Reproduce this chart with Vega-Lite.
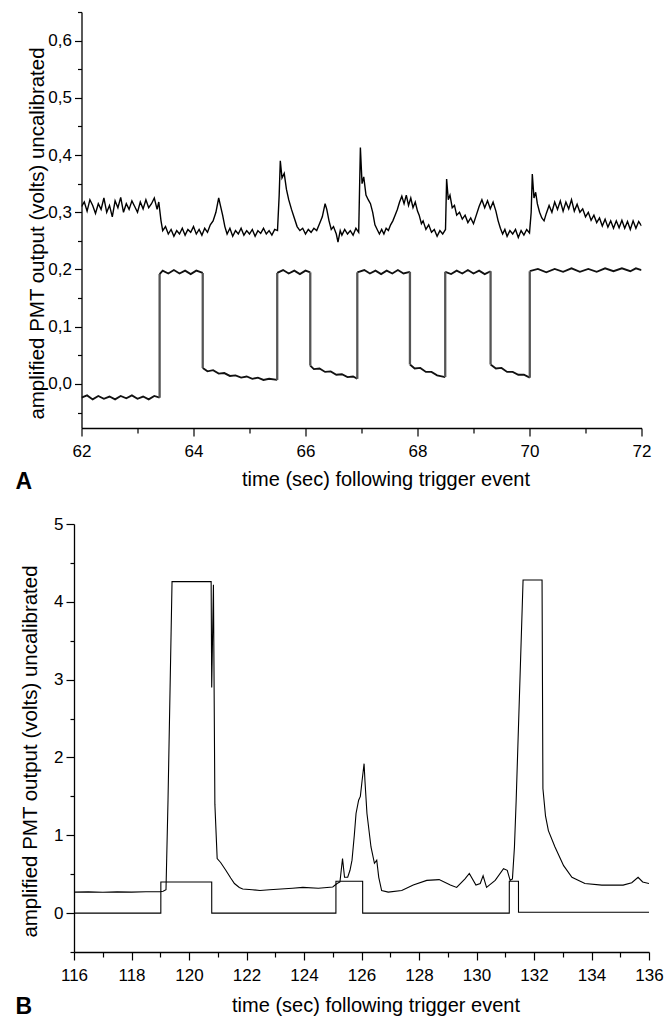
{
  "$schema": "https://vega.github.io/schema/vega-lite/v6.json",
  "padding": {"left": 15, "top": 3, "right": 8, "bottom": 0},
  "spacing": 96,
  "bounds": "flush",
  "center": true,
  "background": "white",
  "config": {
    "view": {"stroke": null},
    "axis": {
      "grid": false,
      "domainColor": "#000",
      "domainWidth": 1.3,
      "tickColor": "#000",
      "tickWidth": 1.2,
      "labelColor": "#000",
      "titleColor": "#000",
      "labelFont": "Liberation Sans",
      "labelFontSize": 17,
      "titleFont": "Liberation Sans",
      "titleFontWeight": "normal",
      "labelFlush": false,
      "labelOverlap": false,
      "labelBound": false
    },
    "axisX": {"titleFontSize": 20},
    "axisY": {"titleFontSize": 20.5}
  },
  "datasets": {
    "A": [
      {"t":62.00,"v":0.310,"s":"f","g":"f"},{"t":62.05,"v":0.318,"s":"f","g":"f"},{"t":62.10,"v":0.302,"s":"f","g":"f"},{"t":62.15,"v":0.322,"s":"f","g":"f"},{"t":62.20,"v":0.312,"s":"f","g":"f"},{"t":62.25,"v":0.298,"s":"f","g":"f"},{"t":62.30,"v":0.315,"s":"f","g":"f"},{"t":62.35,"v":0.305,"s":"f","g":"f"},{"t":62.40,"v":0.325,"s":"f","g":"f"},{"t":62.45,"v":0.300,"s":"f","g":"f"},{"t":62.50,"v":0.312,"s":"f","g":"f"},{"t":62.55,"v":0.292,"s":"f","g":"f"},{"t":62.60,"v":0.320,"s":"f","g":"f"},{"t":62.65,"v":0.308,"s":"f","g":"f"},{"t":62.70,"v":0.326,"s":"f","g":"f"},{"t":62.75,"v":0.300,"s":"f","g":"f"},{"t":62.80,"v":0.315,"s":"f","g":"f"},{"t":62.85,"v":0.305,"s":"f","g":"f"},{"t":62.90,"v":0.320,"s":"f","g":"f"},{"t":62.95,"v":0.310,"s":"f","g":"f"},{"t":63.00,"v":0.300,"s":"f","g":"f"},{"t":63.05,"v":0.318,"s":"f","g":"f"},{"t":63.10,"v":0.306,"s":"f","g":"f"},{"t":63.15,"v":0.322,"s":"f","g":"f"},{"t":63.20,"v":0.308,"s":"f","g":"f"},{"t":63.25,"v":0.315,"s":"f","g":"f"},{"t":63.30,"v":0.325,"s":"f","g":"f"},{"t":63.35,"v":0.305,"s":"f","g":"f"},{"t":63.38,"v":0.318,"s":"f","g":"f"},{"t":63.42,"v":0.285,"s":"f","g":"f"},{"t":63.45,"v":0.268,"s":"f","g":"f"},{"t":63.50,"v":0.275,"s":"f","g":"f"},{"t":63.55,"v":0.262,"s":"f","g":"f"},{"t":63.60,"v":0.270,"s":"f","g":"f"},{"t":63.65,"v":0.258,"s":"f","g":"f"},{"t":63.70,"v":0.268,"s":"f","g":"f"},{"t":63.75,"v":0.262,"s":"f","g":"f"},{"t":63.80,"v":0.272,"s":"f","g":"f"},{"t":63.85,"v":0.260,"s":"f","g":"f"},{"t":63.90,"v":0.270,"s":"f","g":"f"},{"t":63.95,"v":0.265,"s":"f","g":"f"},{"t":64.00,"v":0.275,"s":"f","g":"f"},{"t":64.05,"v":0.262,"s":"f","g":"f"},{"t":64.10,"v":0.270,"s":"f","g":"f"},{"t":64.15,"v":0.260,"s":"f","g":"f"},{"t":64.20,"v":0.272,"s":"f","g":"f"},{"t":64.25,"v":0.265,"s":"f","g":"f"},{"t":64.30,"v":0.278,"s":"f","g":"f"},{"t":64.35,"v":0.285,"s":"f","g":"f"},{"t":64.40,"v":0.300,"s":"f","g":"f"},{"t":64.45,"v":0.325,"s":"f","g":"f"},{"t":64.48,"v":0.312,"s":"f","g":"f"},{"t":64.52,"v":0.295,"s":"f","g":"f"},{"t":64.56,"v":0.275,"s":"f","g":"f"},{"t":64.60,"v":0.262,"s":"f","g":"f"},{"t":64.65,"v":0.272,"s":"f","g":"f"},{"t":64.70,"v":0.258,"s":"f","g":"f"},{"t":64.75,"v":0.268,"s":"f","g":"f"},{"t":64.80,"v":0.262,"s":"f","g":"f"},{"t":64.85,"v":0.272,"s":"f","g":"f"},{"t":64.90,"v":0.260,"s":"f","g":"f"},{"t":64.95,"v":0.268,"s":"f","g":"f"},{"t":65.00,"v":0.262,"s":"f","g":"f"},{"t":65.05,"v":0.270,"s":"f","g":"f"},{"t":65.10,"v":0.258,"s":"f","g":"f"},{"t":65.15,"v":0.268,"s":"f","g":"f"},{"t":65.20,"v":0.263,"s":"f","g":"f"},{"t":65.25,"v":0.272,"s":"f","g":"f"},{"t":65.30,"v":0.262,"s":"f","g":"f"},{"t":65.35,"v":0.268,"s":"f","g":"f"},{"t":65.40,"v":0.260,"s":"f","g":"f"},{"t":65.45,"v":0.270,"s":"f","g":"f"},{"t":65.50,"v":0.268,"s":"f","g":"f"},{"t":65.53,"v":0.330,"s":"f","g":"f"},{"t":65.55,"v":0.390,"s":"f","g":"f"},{"t":65.58,"v":0.360,"s":"f","g":"f"},{"t":65.62,"v":0.368,"s":"f","g":"f"},{"t":65.66,"v":0.340,"s":"f","g":"f"},{"t":65.70,"v":0.322,"s":"f","g":"f"},{"t":65.75,"v":0.305,"s":"f","g":"f"},{"t":65.80,"v":0.290,"s":"f","g":"f"},{"t":65.85,"v":0.275,"s":"f","g":"f"},{"t":65.90,"v":0.268,"s":"f","g":"f"},{"t":65.95,"v":0.272,"s":"f","g":"f"},{"t":66.00,"v":0.262,"s":"f","g":"f"},{"t":66.05,"v":0.270,"s":"f","g":"f"},{"t":66.10,"v":0.265,"s":"f","g":"f"},{"t":66.15,"v":0.272,"s":"f","g":"f"},{"t":66.20,"v":0.268,"s":"f","g":"f"},{"t":66.25,"v":0.280,"s":"f","g":"f"},{"t":66.30,"v":0.292,"s":"f","g":"f"},{"t":66.35,"v":0.315,"s":"f","g":"f"},{"t":66.38,"v":0.305,"s":"f","g":"f"},{"t":66.42,"v":0.285,"s":"f","g":"f"},{"t":66.46,"v":0.270,"s":"f","g":"f"},{"t":66.50,"v":0.275,"s":"f","g":"f"},{"t":66.55,"v":0.262,"s":"f","g":"f"},{"t":66.58,"v":0.248,"s":"f","g":"f"},{"t":66.62,"v":0.268,"s":"f","g":"f"},{"t":66.65,"v":0.260,"s":"f","g":"f"},{"t":66.70,"v":0.270,"s":"f","g":"f"},{"t":66.75,"v":0.262,"s":"f","g":"f"},{"t":66.80,"v":0.268,"s":"f","g":"f"},{"t":66.85,"v":0.260,"s":"f","g":"f"},{"t":66.90,"v":0.272,"s":"f","g":"f"},{"t":66.95,"v":0.265,"s":"f","g":"f"},{"t":66.98,"v":0.413,"s":"f","g":"f"},{"t":67.01,"v":0.350,"s":"f","g":"f"},{"t":67.04,"v":0.362,"s":"f","g":"f"},{"t":67.08,"v":0.330,"s":"f","g":"f"},{"t":67.12,"v":0.322,"s":"f","g":"f"},{"t":67.16,"v":0.315,"s":"f","g":"f"},{"t":67.20,"v":0.300,"s":"f","g":"f"},{"t":67.24,"v":0.278,"s":"f","g":"f"},{"t":67.28,"v":0.270,"s":"f","g":"f"},{"t":67.32,"v":0.262,"s":"f","g":"f"},{"t":67.36,"v":0.270,"s":"f","g":"f"},{"t":67.40,"v":0.262,"s":"f","g":"f"},{"t":67.44,"v":0.272,"s":"f","g":"f"},{"t":67.48,"v":0.268,"s":"f","g":"f"},{"t":67.52,"v":0.278,"s":"f","g":"f"},{"t":67.56,"v":0.285,"s":"f","g":"f"},{"t":67.60,"v":0.295,"s":"f","g":"f"},{"t":67.64,"v":0.305,"s":"f","g":"f"},{"t":67.68,"v":0.318,"s":"f","g":"f"},{"t":67.72,"v":0.328,"s":"f","g":"f"},{"t":67.76,"v":0.315,"s":"f","g":"f"},{"t":67.80,"v":0.330,"s":"f","g":"f"},{"t":67.84,"v":0.312,"s":"f","g":"f"},{"t":67.88,"v":0.325,"s":"f","g":"f"},{"t":67.92,"v":0.308,"s":"f","g":"f"},{"t":67.96,"v":0.318,"s":"f","g":"f"},{"t":68.00,"v":0.302,"s":"f","g":"f"},{"t":68.03,"v":0.295,"s":"f","g":"f"},{"t":68.07,"v":0.280,"s":"f","g":"f"},{"t":68.10,"v":0.285,"s":"f","g":"f"},{"t":68.15,"v":0.270,"s":"f","g":"f"},{"t":68.20,"v":0.278,"s":"f","g":"f"},{"t":68.25,"v":0.265,"s":"f","g":"f"},{"t":68.30,"v":0.270,"s":"f","g":"f"},{"t":68.35,"v":0.258,"s":"f","g":"f"},{"t":68.40,"v":0.268,"s":"f","g":"f"},{"t":68.45,"v":0.262,"s":"f","g":"f"},{"t":68.50,"v":0.270,"s":"f","g":"f"},{"t":68.52,"v":0.358,"s":"f","g":"f"},{"t":68.55,"v":0.322,"s":"f","g":"f"},{"t":68.58,"v":0.330,"s":"f","g":"f"},{"t":68.62,"v":0.308,"s":"f","g":"f"},{"t":68.66,"v":0.312,"s":"f","g":"f"},{"t":68.70,"v":0.295,"s":"f","g":"f"},{"t":68.75,"v":0.300,"s":"f","g":"f"},{"t":68.80,"v":0.288,"s":"f","g":"f"},{"t":68.85,"v":0.295,"s":"f","g":"f"},{"t":68.90,"v":0.282,"s":"f","g":"f"},{"t":68.95,"v":0.290,"s":"f","g":"f"},{"t":69.00,"v":0.280,"s":"f","g":"f"},{"t":69.05,"v":0.295,"s":"f","g":"f"},{"t":69.10,"v":0.310,"s":"f","g":"f"},{"t":69.15,"v":0.322,"s":"f","g":"f"},{"t":69.20,"v":0.308,"s":"f","g":"f"},{"t":69.25,"v":0.320,"s":"f","g":"f"},{"t":69.30,"v":0.306,"s":"f","g":"f"},{"t":69.35,"v":0.318,"s":"f","g":"f"},{"t":69.40,"v":0.302,"s":"f","g":"f"},{"t":69.44,"v":0.285,"s":"f","g":"f"},{"t":69.48,"v":0.272,"s":"f","g":"f"},{"t":69.52,"v":0.262,"s":"f","g":"f"},{"t":69.56,"v":0.270,"s":"f","g":"f"},{"t":69.60,"v":0.258,"s":"f","g":"f"},{"t":69.65,"v":0.268,"s":"f","g":"f"},{"t":69.70,"v":0.262,"s":"f","g":"f"},{"t":69.75,"v":0.270,"s":"f","g":"f"},{"t":69.80,"v":0.256,"s":"f","g":"f"},{"t":69.85,"v":0.268,"s":"f","g":"f"},{"t":69.90,"v":0.260,"s":"f","g":"f"},{"t":69.95,"v":0.270,"s":"f","g":"f"},{"t":70.00,"v":0.264,"s":"f","g":"f"},{"t":70.03,"v":0.300,"s":"f","g":"f"},{"t":70.05,"v":0.367,"s":"f","g":"f"},{"t":70.08,"v":0.325,"s":"f","g":"f"},{"t":70.11,"v":0.335,"s":"f","g":"f"},{"t":70.14,"v":0.315,"s":"f","g":"f"},{"t":70.18,"v":0.300,"s":"f","g":"f"},{"t":70.22,"v":0.290,"s":"f","g":"f"},{"t":70.26,"v":0.285,"s":"f","g":"f"},{"t":70.30,"v":0.298,"s":"f","g":"f"},{"t":70.35,"v":0.312,"s":"f","g":"f"},{"t":70.40,"v":0.300,"s":"f","g":"f"},{"t":70.45,"v":0.318,"s":"f","g":"f"},{"t":70.50,"v":0.305,"s":"f","g":"f"},{"t":70.55,"v":0.320,"s":"f","g":"f"},{"t":70.60,"v":0.302,"s":"f","g":"f"},{"t":70.65,"v":0.318,"s":"f","g":"f"},{"t":70.70,"v":0.306,"s":"f","g":"f"},{"t":70.75,"v":0.322,"s":"f","g":"f"},{"t":70.80,"v":0.302,"s":"f","g":"f"},{"t":70.85,"v":0.314,"s":"f","g":"f"},{"t":70.90,"v":0.300,"s":"f","g":"f"},{"t":70.95,"v":0.306,"s":"f","g":"f"},{"t":71.00,"v":0.292,"s":"f","g":"f"},{"t":71.05,"v":0.300,"s":"f","g":"f"},{"t":71.10,"v":0.286,"s":"f","g":"f"},{"t":71.15,"v":0.295,"s":"f","g":"f"},{"t":71.20,"v":0.282,"s":"f","g":"f"},{"t":71.25,"v":0.290,"s":"f","g":"f"},{"t":71.30,"v":0.276,"s":"f","g":"f"},{"t":71.35,"v":0.288,"s":"f","g":"f"},{"t":71.40,"v":0.274,"s":"f","g":"f"},{"t":71.45,"v":0.285,"s":"f","g":"f"},{"t":71.50,"v":0.272,"s":"f","g":"f"},{"t":71.55,"v":0.285,"s":"f","g":"f"},{"t":71.60,"v":0.273,"s":"f","g":"f"},{"t":71.65,"v":0.286,"s":"f","g":"f"},{"t":71.70,"v":0.272,"s":"f","g":"f"},{"t":71.75,"v":0.284,"s":"f","g":"f"},{"t":71.80,"v":0.270,"s":"f","g":"f"},{"t":71.85,"v":0.285,"s":"f","g":"f"},{"t":71.90,"v":0.272,"s":"f","g":"f"},{"t":71.95,"v":0.284,"s":"f","g":"f"},{"t":72.00,"v":0.276,"s":"f","g":"f"},
      {"t":62.0,"v":-0.024,"s":"lv","g":"l1"},{"t":62.1,"v":-0.020,"s":"lv","g":"l1"},{"t":62.2,"v":-0.027,"s":"lv","g":"l1"},{"t":62.3,"v":-0.021,"s":"lv","g":"l1"},{"t":62.4,"v":-0.026,"s":"lv","g":"l1"},{"t":62.5,"v":-0.022,"s":"lv","g":"l1"},{"t":62.6,"v":-0.027,"s":"lv","g":"l1"},{"t":62.7,"v":-0.021,"s":"lv","g":"l1"},{"t":62.8,"v":-0.025,"s":"lv","g":"l1"},{"t":62.9,"v":-0.020,"s":"lv","g":"l1"},{"t":63.0,"v":-0.026,"s":"lv","g":"l1"},{"t":63.1,"v":-0.022,"s":"lv","g":"l1"},{"t":63.2,"v":-0.027,"s":"lv","g":"l1"},{"t":63.3,"v":-0.021,"s":"lv","g":"l1"},{"t":63.395,"v":-0.024,"s":"lv","g":"l1"},
      {"t":63.395,"v":0.192,"s":"lv","g":"l2"},{"t":63.45,"v":0.198,"s":"lv","g":"l2"},{"t":63.55,"v":0.193,"s":"lv","g":"l2"},{"t":63.65,"v":0.199,"s":"lv","g":"l2"},{"t":63.75,"v":0.193,"s":"lv","g":"l2"},{"t":63.85,"v":0.198,"s":"lv","g":"l2"},{"t":63.95,"v":0.192,"s":"lv","g":"l2"},{"t":64.05,"v":0.198,"s":"lv","g":"l2"},{"t":64.165,"v":0.194,"s":"lv","g":"l2"},
      {"t":64.165,"v":0.028,"s":"lv","g":"l3"},{"t":64.25,"v":0.022,"s":"lv","g":"l3"},{"t":64.35,"v":0.024,"s":"lv","g":"l3"},{"t":64.45,"v":0.018,"s":"lv","g":"l3"},{"t":64.55,"v":0.019,"s":"lv","g":"l3"},{"t":64.65,"v":0.014,"s":"lv","g":"l3"},{"t":64.75,"v":0.015,"s":"lv","g":"l3"},{"t":64.85,"v":0.011,"s":"lv","g":"l3"},{"t":64.95,"v":0.013,"s":"lv","g":"l3"},{"t":65.05,"v":0.009,"s":"lv","g":"l3"},{"t":65.15,"v":0.011,"s":"lv","g":"l3"},{"t":65.25,"v":0.007,"s":"lv","g":"l3"},{"t":65.35,"v":0.009,"s":"lv","g":"l3"},{"t":65.495,"v":0.007,"s":"lv","g":"l3"},
      {"t":65.495,"v":0.194,"s":"lv","g":"l4"},{"t":65.6,"v":0.199,"s":"lv","g":"l4"},{"t":65.7,"v":0.193,"s":"lv","g":"l4"},{"t":65.8,"v":0.198,"s":"lv","g":"l4"},{"t":65.9,"v":0.192,"s":"lv","g":"l4"},{"t":66.0,"v":0.198,"s":"lv","g":"l4"},{"t":66.085,"v":0.195,"s":"lv","g":"l4"},
      {"t":66.085,"v":0.032,"s":"lv","g":"l5"},{"t":66.15,"v":0.026,"s":"lv","g":"l5"},{"t":66.25,"v":0.027,"s":"lv","g":"l5"},{"t":66.35,"v":0.021,"s":"lv","g":"l5"},{"t":66.45,"v":0.022,"s":"lv","g":"l5"},{"t":66.55,"v":0.016,"s":"lv","g":"l5"},{"t":66.65,"v":0.017,"s":"lv","g":"l5"},{"t":66.75,"v":0.012,"s":"lv","g":"l5"},{"t":66.85,"v":0.013,"s":"lv","g":"l5"},{"t":66.925,"v":0.009,"s":"lv","g":"l5"},
      {"t":66.925,"v":0.195,"s":"lv","g":"l6"},{"t":67.05,"v":0.199,"s":"lv","g":"l6"},{"t":67.15,"v":0.193,"s":"lv","g":"l6"},{"t":67.25,"v":0.198,"s":"lv","g":"l6"},{"t":67.35,"v":0.192,"s":"lv","g":"l6"},{"t":67.45,"v":0.198,"s":"lv","g":"l6"},{"t":67.55,"v":0.193,"s":"lv","g":"l6"},{"t":67.65,"v":0.199,"s":"lv","g":"l6"},{"t":67.75,"v":0.193,"s":"lv","g":"l6"},{"t":67.865,"v":0.196,"s":"lv","g":"l6"},
      {"t":67.865,"v":0.034,"s":"lv","g":"l7"},{"t":67.95,"v":0.027,"s":"lv","g":"l7"},{"t":68.05,"v":0.028,"s":"lv","g":"l7"},{"t":68.15,"v":0.021,"s":"lv","g":"l7"},{"t":68.25,"v":0.021,"s":"lv","g":"l7"},{"t":68.35,"v":0.015,"s":"lv","g":"l7"},{"t":68.495,"v":0.012,"s":"lv","g":"l7"},
      {"t":68.495,"v":0.196,"s":"lv","g":"l8"},{"t":68.6,"v":0.192,"s":"lv","g":"l8"},{"t":68.7,"v":0.198,"s":"lv","g":"l8"},{"t":68.8,"v":0.193,"s":"lv","g":"l8"},{"t":68.9,"v":0.199,"s":"lv","g":"l8"},{"t":69.0,"v":0.193,"s":"lv","g":"l8"},{"t":69.1,"v":0.198,"s":"lv","g":"l8"},{"t":69.2,"v":0.192,"s":"lv","g":"l8"},{"t":69.305,"v":0.197,"s":"lv","g":"l8"},
      {"t":69.305,"v":0.034,"s":"lv","g":"l9"},{"t":69.4,"v":0.027,"s":"lv","g":"l9"},{"t":69.5,"v":0.028,"s":"lv","g":"l9"},{"t":69.6,"v":0.021,"s":"lv","g":"l9"},{"t":69.7,"v":0.021,"s":"lv","g":"l9"},{"t":69.8,"v":0.016,"s":"lv","g":"l9"},{"t":69.9,"v":0.016,"s":"lv","g":"l9"},{"t":70.005,"v":0.011,"s":"lv","g":"l9"},
      {"t":70.005,"v":0.197,"s":"lv","g":"l10"},{"t":70.15,"v":0.201,"s":"lv","g":"l10"},{"t":70.3,"v":0.195,"s":"lv","g":"l10"},{"t":70.45,"v":0.201,"s":"lv","g":"l10"},{"t":70.6,"v":0.196,"s":"lv","g":"l10"},{"t":70.75,"v":0.202,"s":"lv","g":"l10"},{"t":70.9,"v":0.196,"s":"lv","g":"l10"},{"t":71.05,"v":0.201,"s":"lv","g":"l10"},{"t":71.2,"v":0.196,"s":"lv","g":"l10"},{"t":71.35,"v":0.202,"s":"lv","g":"l10"},{"t":71.5,"v":0.197,"s":"lv","g":"l10"},{"t":71.65,"v":0.202,"s":"lv","g":"l10"},{"t":71.8,"v":0.197,"s":"lv","g":"l10"},{"t":71.9,"v":0.202,"s":"lv","g":"l10"},{"t":72.0,"v":0.199,"s":"lv","g":"l10"},
      {"t":63.395,"v":-0.024,"s":"ed","g":"e1"},{"t":63.395,"v":0.192,"s":"ed","g":"e1"},
      {"t":64.165,"v":0.194,"s":"ed","g":"e2"},{"t":64.165,"v":0.028,"s":"ed","g":"e2"},
      {"t":65.495,"v":0.007,"s":"ed","g":"e3"},{"t":65.495,"v":0.194,"s":"ed","g":"e3"},
      {"t":66.085,"v":0.195,"s":"ed","g":"e4"},{"t":66.085,"v":0.032,"s":"ed","g":"e4"},
      {"t":66.925,"v":0.009,"s":"ed","g":"e5"},{"t":66.925,"v":0.195,"s":"ed","g":"e5"},
      {"t":67.865,"v":0.196,"s":"ed","g":"e6"},{"t":67.865,"v":0.034,"s":"ed","g":"e6"},
      {"t":68.495,"v":0.012,"s":"ed","g":"e7"},{"t":68.495,"v":0.196,"s":"ed","g":"e7"},
      {"t":69.305,"v":0.197,"s":"ed","g":"e8"},{"t":69.305,"v":0.034,"s":"ed","g":"e8"},
      {"t":70.005,"v":0.011,"s":"ed","g":"e9"},{"t":70.005,"v":0.197,"s":"ed","g":"e9"}
    ],
    "B": [
      {"t":116.0,"v":0.27,"s":"f"},{"t":116.5,"v":0.272,"s":"f"},{"t":117.0,"v":0.268,"s":"f"},{"t":117.5,"v":0.273,"s":"f"},{"t":118.0,"v":0.27,"s":"f"},{"t":118.5,"v":0.275,"s":"f"},{"t":119.0,"v":0.275,"s":"f"},{"t":119.1,"v":0.28,"s":"f"},{"t":119.2,"v":0.30,"s":"f"},{"t":119.27,"v":1.45,"s":"f"},{"t":119.41,"v":4.26,"s":"f"},{"t":120.77,"v":4.26,"s":"f"},{"t":120.79,"v":2.9,"s":"f"},{"t":120.85,"v":4.22,"s":"f"},{"t":120.9,"v":1.4,"s":"f"},{"t":120.98,"v":0.70,"s":"f"},{"t":121.1,"v":0.65,"s":"f"},{"t":121.28,"v":0.55,"s":"f"},{"t":121.45,"v":0.45,"s":"f"},{"t":121.58,"v":0.38,"s":"f"},{"t":121.75,"v":0.33,"s":"f"},{"t":121.87,"v":0.31,"s":"f"},{"t":122.2,"v":0.30,"s":"f"},{"t":122.47,"v":0.29,"s":"f"},{"t":122.8,"v":0.30,"s":"f"},{"t":123.2,"v":0.31,"s":"f"},{"t":123.6,"v":0.32,"s":"f"},{"t":123.96,"v":0.33,"s":"f"},{"t":124.5,"v":0.32,"s":"f"},{"t":125.0,"v":0.335,"s":"f"},{"t":125.15,"v":0.38,"s":"f"},{"t":125.25,"v":0.40,"s":"f"},{"t":125.34,"v":0.70,"s":"f"},{"t":125.41,"v":0.46,"s":"f"},{"t":125.52,"v":0.46,"s":"f"},{"t":125.6,"v":0.55,"s":"f"},{"t":125.67,"v":0.68,"s":"f"},{"t":125.75,"v":1.0,"s":"f"},{"t":125.81,"v":1.28,"s":"f"},{"t":125.9,"v":1.45,"s":"f"},{"t":125.96,"v":1.5,"s":"f"},{"t":126.02,"v":1.7,"s":"f"},{"t":126.09,"v":1.92,"s":"f"},{"t":126.12,"v":1.7,"s":"f"},{"t":126.19,"v":1.28,"s":"f"},{"t":126.33,"v":0.85,"s":"f"},{"t":126.45,"v":0.64,"s":"f"},{"t":126.53,"v":0.68,"s":"f"},{"t":126.6,"v":0.46,"s":"f"},{"t":126.7,"v":0.29,"s":"f"},{"t":126.93,"v":0.27,"s":"f"},{"t":127.4,"v":0.29,"s":"f"},{"t":127.8,"v":0.36,"s":"f"},{"t":128.27,"v":0.42,"s":"f"},{"t":128.7,"v":0.43,"s":"f"},{"t":129.09,"v":0.36,"s":"f"},{"t":129.31,"v":0.33,"s":"f"},{"t":129.6,"v":0.44,"s":"f"},{"t":129.75,"v":0.51,"s":"f"},{"t":129.98,"v":0.36,"s":"f"},{"t":130.13,"v":0.38,"s":"f"},{"t":130.23,"v":0.48,"s":"f"},{"t":130.35,"v":0.33,"s":"f"},{"t":130.65,"v":0.42,"s":"f"},{"t":130.94,"v":0.57,"s":"f"},{"t":131.07,"v":0.55,"s":"f"},{"t":131.17,"v":0.42,"s":"f"},{"t":131.25,"v":0.44,"s":"f"},{"t":131.32,"v":0.85,"s":"f"},{"t":131.38,"v":1.45,"s":"f"},{"t":131.62,"v":4.28,"s":"f"},{"t":132.28,"v":4.28,"s":"f"},{"t":132.31,"v":1.6,"s":"f"},{"t":132.4,"v":1.25,"s":"f"},{"t":132.5,"v":1.06,"s":"f"},{"t":132.73,"v":0.85,"s":"f"},{"t":133.03,"v":0.61,"s":"f"},{"t":133.32,"v":0.46,"s":"f"},{"t":133.77,"v":0.38,"s":"f"},{"t":134.36,"v":0.36,"s":"f"},{"t":135.1,"v":0.36,"s":"f"},{"t":135.4,"v":0.39,"s":"f"},{"t":135.62,"v":0.46,"s":"f"},{"t":135.78,"v":0.40,"s":"f"},{"t":136.0,"v":0.38,"s":"f"},
      {"t":116.0,"v":0.0,"s":"p"},{"t":119.02,"v":0.0,"s":"p"},{"t":119.021,"v":0.40,"s":"p"},{"t":120.79,"v":0.40,"s":"p"},{"t":120.791,"v":0.0,"s":"p"},{"t":125.11,"v":0.0,"s":"p"},{"t":125.111,"v":0.41,"s":"p"},{"t":126.04,"v":0.41,"s":"p"},{"t":126.041,"v":0.0,"s":"p"},{"t":131.14,"v":0.0,"s":"p"},{"t":131.141,"v":0.41,"s":"p"},{"t":131.46,"v":0.41,"s":"p"},{"t":131.461,"v":0.01,"s":"p"},{"t":136.0,"v":0.01,"s":"p"}
    ]
  },
  "vconcat": [
    {
      "width": 560,
      "height": 416,
      "data": {"name": "A"},
      "title": {"text": "A", "orient": "bottom", "anchor": "start", "frame": "group", "offset": 0, "dx": -66, "dy": -18, "font": "Liberation Sans", "fontSize": 23, "fontWeight": "bold", "color": "#000"},
      "mark": {"type": "line", "clip": true},
      "encoding": {
        "x": {"field": "t", "type": "quantitative",
          "scale": {"domain": [62, 72], "nice": false, "zero": false},
          "axis": {
            "title": "time (sec) following trigger event",
            "values": [62,63,64,65,66,67,68,69,70,71,72],
            "labelExpr": "datum.value % 2 === 0 ? format(datum.value, 'd') : ''",
            "tickSize": {"condition": {"test": "datum.value % 2 === 0", "value": 8}, "value": 5},
            "labelPadding": 7,
            "titleX": 304, "titleY": 57, "titleBaseline": "alphabetic"
          }},
        "y": {"field": "v", "type": "quantitative",
          "scale": {"domain": [-0.077, 0.65], "nice": false, "zero": false},
          "axis": {
            "title": "amplified PMT output (volts) uncalibrated",
            "values": [-0.05,0,0.05,0.1,0.15,0.2,0.25,0.3,0.35,0.4,0.45,0.5,0.55,0.6,0.65],
            "labelExpr": "abs(round(datum.value*20)) % 2 === 0 ? replace(format(datum.value, '.1f'), '.', ',') : ''",
            "tickSize": {"condition": {"test": "abs(round(datum.value*20)) % 2 === 0", "value": 7}, "value": 4},
            "labelPadding": 3,
            "titleX": -38, "titleY": 221, "titleBaseline": "alphabetic"
          }},
        "detail": {"field": "g", "type": "nominal"},
        "color": {"field": "s", "type": "nominal", "scale": {"domain": ["f", "lv", "ed"], "range": ["#000", "#111", "#555"]}, "legend": null},
        "strokeWidth": {"field": "s", "type": "nominal", "scale": {"domain": ["f", "lv", "ed"], "range": [1.4, 2.3, 1]}, "legend": null}
      }
    },
    {
      "width": 575,
      "height": 428,
      "data": {"name": "B"},
      "title": {"text": "B", "orient": "bottom", "anchor": "start", "frame": "group", "offset": 0, "dx": -58.5, "dy": -19, "font": "Liberation Sans", "fontSize": 23, "fontWeight": "bold", "color": "#000"},
      "mark": {"type": "line", "color": "#000", "clip": true, "strokeWidth": 1.1},
      "encoding": {
        "x": {"field": "t", "type": "quantitative",
          "scale": {"domain": [116, 136], "nice": false, "zero": false},
          "axis": {
            "title": "time (sec) following trigger event",
            "values": [116,117,118,119,120,121,122,123,124,125,126,127,128,129,130,131,132,133,134,135,136],
            "labelExpr": "datum.value % 2 === 0 ? format(datum.value, 'd') : ''",
            "tickSize": {"condition": {"test": "datum.value % 2 === 0", "value": 8}, "value": 5},
            "labelPadding": 7,
            "titleX": 301.5, "titleY": 59, "titleBaseline": "alphabetic"
          }},
        "y": {"field": "v", "type": "quantitative",
          "scale": {"domain": [-0.5, 5], "nice": false, "zero": false},
          "axis": {
            "title": "amplified PMT output (volts) uncalibrated",
            "values": [-0.5,0,0.5,1,1.5,2,2.5,3,3.5,4,4.5,5],
            "labelExpr": "round(datum.value*2) % 2 === 0 ? format(datum.value, 'd') : ''",
            "tickSize": {"condition": {"test": "round(datum.value*2) % 2 === 0", "value": 8}, "value": 4},
            "labelPadding": 3,
            "titleX": -38, "titleY": 227, "titleBaseline": "alphabetic"
          }},
        "detail": {"field": "s", "type": "nominal"}
      }
    }
  ]
}
